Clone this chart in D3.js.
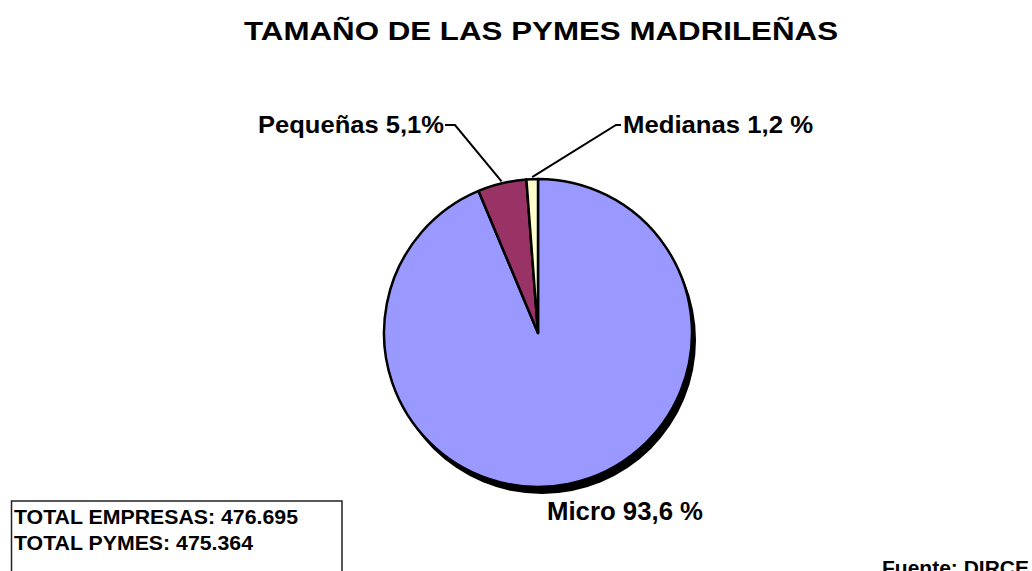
<!DOCTYPE html>
<html>
<head>
<meta charset="utf-8">
<script src="https://cdn.jsdelivr.net/npm/d3@7"></script>
<style>
  body { margin: 0; background: #fff; }
  text { font-family: Arial, "Liberation Sans", sans-serif; font-weight: bold; fill: #000; }
</style>
</head>
<body>
<div id="chart"></div>
<script>
let width = 1032;
let height = 571;

// data
let categories = ["Micro", "Pequeñas", "Medianas"];
let values = [93.6, 5.1, 1.2];
let labels = ["Micro 93,6 %", "Pequeñas 5,1%", "Medianas 1,2 %"];
let colors = ["#9999FF", "#993366", "#FFFFCC"];
let totals = ["TOTAL EMPRESAS: 476.695", "TOTAL PYMES: 475.364"];
let totalWidths = [284, 239];

let cx = 538, cy = 333, radius = 154;

let svg = d3.select("#chart")
  .append("svg")
  .attr("width", width)
  .attr("height", height);

svg.append("rect")
  .attr("width", width)
  .attr("height", height)
  .attr("fill", "white");

// title
svg.append("text")
  .attr("x", 541)
  .attr("y", 40)
  .attr("text-anchor", "middle")
  .attr("font-size", 26)
  .attr("textLength", 594)
  .attr("lengthAdjust", "spacingAndGlyphs")
  .text("TAMAÑO DE LAS PYMES MADRILEÑAS");

let pie = d3.pie().sort(null).value(d => d);
let arcs = pie(values);

let arc = d3.arc().innerRadius(0).outerRadius(radius);
let edge = d3.arc().innerRadius(radius + 2).outerRadius(radius + 2);

let g = svg.append("g").attr("transform", `translate(${cx},${cy})`);

// shadow
g.append("circle")
  .attr("cx", 4)
  .attr("cy", 7)
  .attr("r", radius)
  .attr("fill", "#000");

g.selectAll("path.slice")
  .data(arcs)
  .enter()
  .append("path")
  .attr("class", "slice")
  .attr("d", arc)
  .attr("fill", (d, i) => colors[i])
  .attr("stroke", "#000")
  .attr("stroke-width", 2.5)
  .attr("stroke-linejoin", "round");

// labels: position + elbow of leader line
let labelPos = [
  {x: 547, y: 520, len: 156, size: 25.5, anchor: "start", elbow: null},
  {x: 444, y: 133, len: 186, size: 24, anchor: "end", elbow: [455, 125], tick: 445},
  {x: 623, y: 133, len: 190, size: 24, anchor: "start", elbow: [616, 125], tick: 621}
];

arcs.forEach((d, i) => {
  let p = labelPos[i];
  svg.append("text")
    .attr("x", p.x)
    .attr("y", p.y)
    .attr("text-anchor", p.anchor)
    .attr("font-size", p.size)
    .attr("textLength", p.len)
    .attr("lengthAdjust", "spacingAndGlyphs")
    .text(labels[i]);

  if (p.elbow) {
    let c = edge.centroid(d);
    svg.append("polyline")
      .attr("points", [[cx + c[0], cy + c[1]], p.elbow, [p.tick, p.elbow[1]]].map(q => q.join(",")).join(" "))
      .attr("fill", "none")
      .attr("stroke", "#000")
      .attr("stroke-width", 2);
  }
});

// totals box
svg.append("rect")
  .attr("x", 11.5)
  .attr("y", 501)
  .attr("width", 330.5)
  .attr("height", 80)
  .attr("fill", "none")
  .attr("stroke", "#222")
  .attr("stroke-width", 1.5);

svg.selectAll("text.total")
  .data(totals)
  .enter()
  .append("text")
  .attr("class", "total")
  .attr("x", 14)
  .attr("y", (d, i) => 524 + i * 26)
  .attr("font-size", 21)
  .attr("textLength", (d, i) => totalWidths[i])
  .attr("lengthAdjust", "spacingAndGlyphs")
  .text(d => d);

svg.append("text")
  .attr("x", 882)
  .attr("y", 575)
  .attr("font-size", 21)
  .text("Fuente: DIRCE");
</script>
</body>
</html>
